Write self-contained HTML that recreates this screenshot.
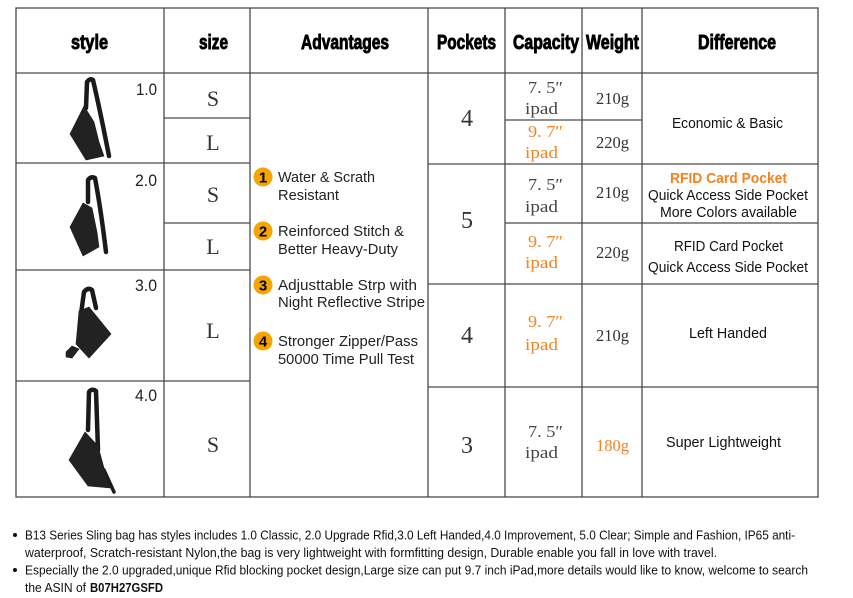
<!DOCTYPE html>
<html><head><meta charset="utf-8"><style>
html,body{margin:0;padding:0;background:#fff;}
svg{display:block;}
</style></head><body>
<svg width="853" height="598" viewBox="0 0 853 598" xmlns="http://www.w3.org/2000/svg">
<rect width="853" height="598" fill="#fff"/>
<g stroke="#4a4a4a" stroke-width="1.3" fill="none">
<rect x="16" y="8" width="802" height="489"/>
<line x1="164" y1="8" x2="164" y2="497"/>
<line x1="250" y1="8" x2="250" y2="497"/>
<line x1="428" y1="8" x2="428" y2="497"/>
<line x1="505" y1="8" x2="505" y2="497"/>
<line x1="582" y1="8" x2="582" y2="497"/>
<line x1="642" y1="8" x2="642" y2="497"/>
<line x1="16" y1="73" x2="818" y2="73"/>
<line x1="16" y1="163" x2="250" y2="163"/>
<line x1="16" y1="270" x2="250" y2="270"/>
<line x1="16" y1="381" x2="250" y2="381"/>
<line x1="164" y1="118" x2="250" y2="118"/>
<line x1="164" y1="223" x2="250" y2="223"/>
<line x1="428" y1="164" x2="818" y2="164"/>
<line x1="428" y1="284" x2="818" y2="284"/>
<line x1="428" y1="387" x2="818" y2="387"/>
<line x1="505" y1="120" x2="642" y2="120"/>
<line x1="505" y1="223" x2="818" y2="223"/>
</g>

<!-- header -->
<g font-family="Liberation Sans, sans-serif" font-weight="bold" font-size="20" fill="#000" stroke="#000" stroke-width="0.9" text-anchor="middle">
<text x="89.5" y="49" textLength="37" lengthAdjust="spacingAndGlyphs">style</text>
<text x="213.5" y="49" textLength="29" lengthAdjust="spacingAndGlyphs">size</text>
<text x="345" y="49" textLength="88" lengthAdjust="spacingAndGlyphs">Advantages</text>
<text x="466.5" y="49" textLength="59" lengthAdjust="spacingAndGlyphs">Pockets</text>
<text x="546" y="49" textLength="66" lengthAdjust="spacingAndGlyphs">Capacity</text>
<text x="612.5" y="49" textLength="53" lengthAdjust="spacingAndGlyphs">Weight</text>
<text x="737" y="49" textLength="78" lengthAdjust="spacingAndGlyphs">Difference</text>
</g>

<!-- style numbers -->
<g font-family="Liberation Sans, sans-serif" font-size="17" fill="#222" text-anchor="end">
<text x="157" y="95" textLength="21" lengthAdjust="spacingAndGlyphs">1.0</text>
<text x="157" y="186" textLength="22" lengthAdjust="spacingAndGlyphs">2.0</text>
<text x="157" y="291" textLength="22" lengthAdjust="spacingAndGlyphs">3.0</text>
<text x="157" y="401" textLength="22" lengthAdjust="spacingAndGlyphs">4.0</text>
</g>

<!-- bags -->
<g fill="none" stroke="#1a1a1a" stroke-width="4.5" stroke-linecap="round" stroke-linejoin="round">
<!-- 1.0 strap -->
<path d="M86,108 L87,82 Q90,78 93,80 Q100,110 109,156"/>
<!-- 2.0 strap -->
<path d="M88,202 L88,180 Q91,176 95,178 Q101,210 106,252"/>
<!-- 3.0 strap -->
<path d="M81,314 L84,292 Q88,287 92,290 L96,308"/>
<!-- 4.0 strap -->
<path d="M88,430 L89,392 Q92,388 96,391 L98,450"/>
<path d="M104,470 L114,492" stroke-width="3.5"/>
</g>
<g fill="#222" stroke="#1a1a1a" stroke-width="0.6">
<path d="M84,106 L94,122 L99,142 L104,156 L86,160 L70,134 Z"/>
<path d="M83,203 L92,208 L97,232 L99,247 L83,256 L70,227 Z"/>
<path d="M79,311 L89,307 L111,334 L89,358 L76,344 Z"/>
<path d="M66,352 L72,346 L79,349 L72,358 L66,357 Z"/>
<path d="M85,432 L98,446 L104,468 L111,488 L88,486 L69,460 Z"/>
</g>

<!-- size letters -->
<g font-family="Liberation Serif, serif" font-size="22" fill="#333" text-anchor="middle">
<text x="213" y="106">S</text>
<text x="213" y="150">L</text>
<text x="213" y="202">S</text>
<text x="213" y="254">L</text>
<text x="213" y="338">L</text>
<text x="213" y="452">S</text>
</g>

<!-- advantages -->
<g>
<circle cx="263" cy="177" r="9.5" fill="#f6a400"/>
<circle cx="263" cy="231" r="9.5" fill="#f6a400"/>
<circle cx="263" cy="285" r="9.5" fill="#f6a400"/>
<circle cx="263" cy="341" r="9.5" fill="#f6a400"/>
</g>
<g font-family="Liberation Sans, sans-serif" font-size="15" font-weight="bold" fill="#000" text-anchor="middle">
<text x="263" y="182.5">1</text>
<text x="263" y="236.5">2</text>
<text x="263" y="290.5">3</text>
<text x="263" y="346.5">4</text>
</g>
<g font-family="Liberation Sans, sans-serif" font-size="14.5" fill="#222">
<text x="278" y="182" textLength="97" lengthAdjust="spacingAndGlyphs">Water &amp; Scrath</text>
<text x="278" y="200" textLength="61" lengthAdjust="spacingAndGlyphs">Resistant</text>
<text x="278" y="236" textLength="126" lengthAdjust="spacingAndGlyphs">Reinforced Stitch &amp;</text>
<text x="278" y="254" textLength="120" lengthAdjust="spacingAndGlyphs">Better Heavy-Duty</text>
<text x="278" y="290" textLength="139" lengthAdjust="spacingAndGlyphs">Adjusttable Strp with</text>
<text x="278" y="307" textLength="147" lengthAdjust="spacingAndGlyphs">Night Reflective Stripe</text>
<text x="278" y="346" textLength="140" lengthAdjust="spacingAndGlyphs">Stronger Zipper/Pass</text>
<text x="278" y="364" textLength="136" lengthAdjust="spacingAndGlyphs">50000 Time Pull Test</text>
</g>

<!-- pockets -->
<g font-family="Liberation Serif, serif" font-size="24" fill="#333" text-anchor="middle">
<text x="467" y="126">4</text>
<text x="467" y="228">5</text>
<text x="467" y="343">4</text>
<text x="467" y="453">3</text>
</g>

<!-- capacity -->
<g font-family="Liberation Serif, serif" font-size="17" text-anchor="middle">
<text x="545.5" y="93" fill="#444" textLength="35" lengthAdjust="spacingAndGlyphs">7. 5″</text>
<text x="541.5" y="114" fill="#444" textLength="33" lengthAdjust="spacingAndGlyphs">ipad</text>
<text x="545.5" y="137" fill="#f5821f" textLength="35" lengthAdjust="spacingAndGlyphs">9. 7″</text>
<text x="541.5" y="158" fill="#f5821f" textLength="33" lengthAdjust="spacingAndGlyphs">ipad</text>
<text x="545.5" y="190" fill="#444" textLength="35" lengthAdjust="spacingAndGlyphs">7. 5″</text>
<text x="541.5" y="212" fill="#444" textLength="33" lengthAdjust="spacingAndGlyphs">ipad</text>
<text x="545.5" y="247" fill="#f5821f" textLength="35" lengthAdjust="spacingAndGlyphs">9. 7″</text>
<text x="541.5" y="268" fill="#f5821f" textLength="33" lengthAdjust="spacingAndGlyphs">ipad</text>
<text x="545.5" y="327" fill="#f5821f" textLength="35" lengthAdjust="spacingAndGlyphs">9. 7″</text>
<text x="541.5" y="350" fill="#f5821f" textLength="33" lengthAdjust="spacingAndGlyphs">ipad</text>
<text x="545.5" y="437" fill="#444" textLength="35" lengthAdjust="spacingAndGlyphs">7. 5″</text>
<text x="541.5" y="458" fill="#444" textLength="33" lengthAdjust="spacingAndGlyphs">ipad</text>
</g>

<!-- weight -->
<g font-family="Liberation Serif, serif" font-size="17" fill="#333" text-anchor="middle">
<text x="612.5" y="104" textLength="33" lengthAdjust="spacingAndGlyphs">210g</text>
<text x="612.5" y="148" textLength="33" lengthAdjust="spacingAndGlyphs">220g</text>
<text x="612.5" y="198" textLength="33" lengthAdjust="spacingAndGlyphs">210g</text>
<text x="612.5" y="258" textLength="33" lengthAdjust="spacingAndGlyphs">220g</text>
<text x="612.5" y="341" textLength="33" lengthAdjust="spacingAndGlyphs">210g</text>
<text x="612.5" y="451" fill="#f5821f" textLength="33" lengthAdjust="spacingAndGlyphs">180g</text>
</g>

<!-- difference -->
<g font-family="Liberation Sans, sans-serif" font-size="15" fill="#111" text-anchor="middle">
<text x="727.5" y="128" textLength="111" lengthAdjust="spacingAndGlyphs">Economic &amp; Basic</text>
<text x="728.5" y="183" fill="#f5821f" font-weight="bold" textLength="117" lengthAdjust="spacingAndGlyphs">RFID Card Pocket</text>
<text x="728" y="200" textLength="160" lengthAdjust="spacingAndGlyphs">Quick Access Side Pocket</text>
<text x="728.5" y="217" textLength="137" lengthAdjust="spacingAndGlyphs">More Colors available</text>
<text x="728.5" y="251" textLength="109" lengthAdjust="spacingAndGlyphs">RFID Card Pocket</text>
<text x="728" y="272" textLength="160" lengthAdjust="spacingAndGlyphs">Quick Access Side Pocket</text>
<text x="728" y="338" textLength="78" lengthAdjust="spacingAndGlyphs">Left Handed</text>
<text x="723.5" y="447" textLength="115" lengthAdjust="spacingAndGlyphs">Super Lightweight</text>
</g>

<!-- bullets -->
<g fill="#0f1111">
<circle cx="15" cy="535" r="2"/>
<circle cx="15" cy="570" r="2"/>
</g>
<g font-family="Liberation Sans, sans-serif" font-size="12.5" fill="#0f1111">
<text x="25" y="539.5" textLength="770" lengthAdjust="spacingAndGlyphs">B13 Series Sling bag has styles includes 1.0 Classic, 2.0 Upgrade Rfid,3.0 Left Handed,4.0 Improvement, 5.0 Clear; Simple and Fashion, IP65 anti-</text>
<text x="25" y="557" textLength="692" lengthAdjust="spacingAndGlyphs">waterproof, Scratch-resistant Nylon,the bag is very lightweight with formfitting design, Durable enable you fall in love with travel.</text>
<text x="25" y="574.5" textLength="783" lengthAdjust="spacingAndGlyphs">Especially the 2.0 upgraded,unique Rfid blocking pocket design,Large size can put 9.7 inch iPad,more details would like to know, welcome to search</text>
<text x="25" y="592" textLength="61" lengthAdjust="spacingAndGlyphs">the ASIN of</text>
<text x="90" y="592" font-weight="bold" textLength="73" lengthAdjust="spacingAndGlyphs">B07H27GSFD</text>
</g>
</svg>
</body></html>
